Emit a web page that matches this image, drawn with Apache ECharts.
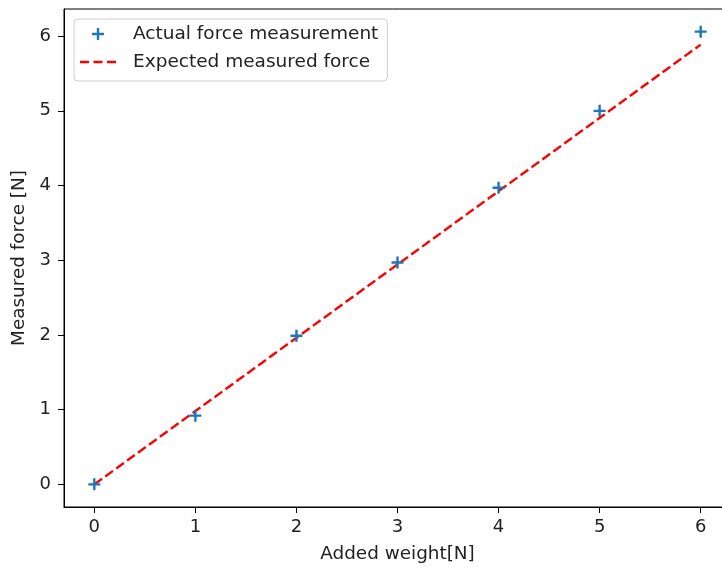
<!DOCTYPE html>
<html>
<head>
<meta charset="utf-8">
<script src="https://cdn.jsdelivr.net/npm/echarts@6/dist/echarts.min.js"></script>
<style>
html,body{margin:0;padding:0;background:#fff;}
#chart{width:722px;height:567px;}
</style>
</head>
<body>
<div id="chart"></div>
<script>
/* data */
var addedWeight = [0, 1, 2, 3, 4, 5, 6];
var actualForce = [0.0, 0.92, 1.99, 2.97, 3.97, 5.0, 6.06];
var expectedForce = [0, 0.981, 1.962, 2.943, 3.924, 4.905, 5.886];
var xTicks = [0, 1, 2, 3, 4, 5, 6];
var yTicks = [0, 1, 2, 3, 4, 5, 6];

function pairs(xs, ys){
	var out = [];
	for (var i = 0; i < xs.length; i++) out.push([xs[i], ys[i]]);
	return out;
}

var plusIcon = 'path://M4,0h2v4h4v2h-4v4h-2v-4h-4v-2h4z';
var dashIcon = 'path://M0,0h9v2.4h-9zM13.5,0h9v2.4h-9zM27,0h9v2.4h-9z';

var mychart = echarts.init(document.getElementById('chart'));
var font = 'DejaVu Sans';
var option = {
	backgroundColor:'#fff',
	animation:false,
	textStyle:{fontFamily:font},
	grid:{
		left:64,
		top:9,
		width:667,
		height:498,
		outerBoundsMode:'none',
		containLabel:false,
		show:true,
		borderColor:'#000',
		borderWidth:1
	},
	legend:{
		left:74,
		top:19,
		orient:'vertical',
		padding:[5,9,9,6],
		itemWidth:36,
		itemHeight:12,
		itemGap:8,
		borderColor:'#d0d0d0',
		borderWidth:1,
		borderRadius:4,
		symbolKeepAspect:true,
		textStyle:{
			fontFamily:font,
			fontSize:18.5,
			color:'#222',
			lineHeight:20,
			padding:[0,0,0,12]
		},
		data:[
			{name:'Actual force measurement', icon:plusIcon, itemStyle:{color:'#1f77b4'}},
			{name:'Expected measured force', icon:dashIcon, itemStyle:{color:'#ff0000'}}
		]
	},
	xAxis:{
		type:'value',
		min:-0.3,
		max:6.3,
		name:'Added weight[N]',
		nameLocation:'middle',
		nameGap:38,
		nameTextStyle:{fontFamily:font, fontSize:18.4, color:'#222'},
		splitLine:{show:false},
		axisLine:{show:true, onZero:false, lineStyle:{color:'#000', width:1}},
		axisTick:{show:true, length:6, lineStyle:{color:'#000'}, customValues:xTicks},
		axisLabel:{fontFamily:font, fontSize:18, color:'#222', margin:11, customValues:xTicks}
	},
	yAxis:{
		type:'value',
		min:-0.303,
		max:6.363,
		name:'Measured force [N]',
		nameLocation:'middle',
		nameGap:36,
		nameRotate:90,
		nameTextStyle:{fontFamily:font, fontSize:18.4, color:'#222'},
		splitLine:{show:false},
		axisLine:{show:true, onZero:false, lineStyle:{color:'#000', width:1}},
		axisTick:{show:true, length:6, lineStyle:{color:'#000'}, customValues:yTicks},
		axisLabel:{fontFamily:font, fontSize:18, color:'#222', margin:13, customValues:yTicks}
	},
	series:[{
		name:'Expected measured force',
		type:'line',
		data:pairs(addedWeight, expectedForce),
		showSymbol:false,
		symbol:'none',
		lineStyle:{color:'#ff0000', width:2.4, type:[9.5,4]},
		itemStyle:{color:'#ff0000'},
		z:3
	},{
		name:'Actual force measurement',
		type:'scatter',
		data:pairs(addedWeight, actualForce),
		symbol:plusIcon,
		symbolSize:12,
		itemStyle:{color:'#1f77b4', opacity:1},
		z:4
	}]
};
mychart.setOption(option);
</script>
</body>
</html>
